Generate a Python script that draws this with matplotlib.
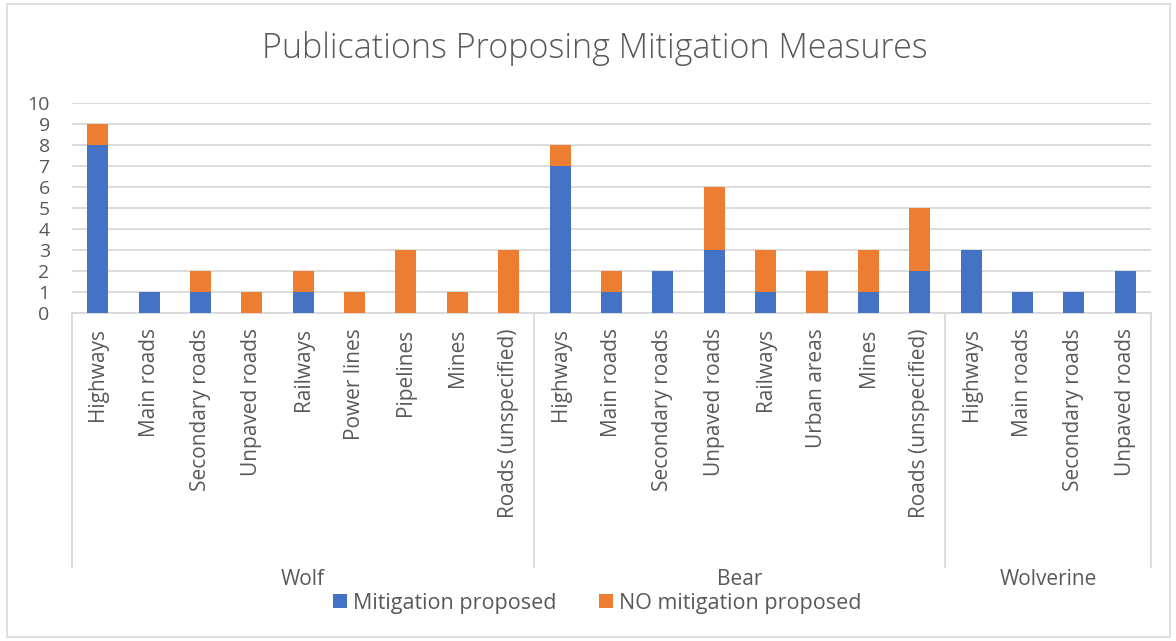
import matplotlib.pyplot as plt
from matplotlib.patches import Rectangle
from matplotlib.transforms import blended_transform_factory
import numpy as np

plt.rcParams['font.family'] = ['Open Sans', 'DejaVu Sans']

# species groups and the infrastructure types studied for each
groups = ["Wolf", "Bear", "Wolverine"]
wolf_types = ["Highways", "Main roads", "Secondary roads", "Unpaved roads", "Railways",
              "Power lines", "Pipelines", "Mines", "Roads (unspecified)"]
bear_types = ["Highways", "Main roads", "Secondary roads", "Unpaved roads", "Railways",
              "Urban areas", "Mines", "Roads (unspecified)"]
wolverine_types = ["Highways", "Main roads", "Secondary roads", "Unpaved roads"]

# publication counts
wolf_mitigation = [8, 1, 1, 0, 1, 0, 0, 0, 0]
wolf_no_mitigation = [1, 0, 1, 1, 1, 1, 3, 1, 3]
bear_mitigation = [7, 1, 2, 3, 1, 0, 1, 2]
bear_no_mitigation = [1, 1, 0, 3, 2, 2, 2, 3]
wolverine_mitigation = [3, 1, 1, 2]
wolverine_no_mitigation = [0, 0, 0, 0]

BLUE = "#4472C4"
ORANGE = "#ED7D31"
TEXT = "#595959"
LINE = "#D9D9D9"


def main():
    labels = wolf_types + bear_types + wolverine_types
    mitigation = np.array(wolf_mitigation + bear_mitigation + wolverine_mitigation)
    no_mitigation = np.array(wolf_no_mitigation + bear_no_mitigation + wolverine_no_mitigation)
    sizes = [len(wolf_types), len(bear_types), len(wolverine_types)]
    x = np.arange(len(labels))

    fig = plt.figure(figsize=(11.76, 6.41), dpi=100)
    ax = fig.add_axes([0.0612, 0.5117, 0.9175, 0.3276])

    ax.bar(x, mitigation, width=0.41, color=BLUE, label="Mitigation proposed", zorder=3)
    ax.bar(x, no_mitigation, width=0.41, bottom=mitigation, color=ORANGE,
           label="NO mitigation proposed", zorder=3)

    ax.set_xlim(-0.5, len(labels) - 0.5)
    ax.set_ylim(0, 10)
    ax.set_yticks(range(0, 11))
    ax.yaxis.grid(True, color=LINE, linewidth=1.3, zorder=0)
    ax.set_axisbelow(True)
    for side in ["top", "right", "left"]:
        ax.spines[side].set_visible(False)
    ax.spines["bottom"].set_color(LINE)
    ax.spines["bottom"].set_linewidth(1.3)

    ax.set_xticks(x)
    ax.set_xticklabels(labels, rotation=90, va="top", ha="center")
    ax.tick_params(axis="x", length=0, pad=11, labelsize=15, labelcolor=TEXT)
    ax.tick_params(axis="y", length=0, pad=16, labelsize=14, labelcolor=TEXT)

    # two-level category axis: separators and species names
    trans = blended_transform_factory(ax.transData, ax.transAxes)
    bounds = np.concatenate([[0], np.cumsum(sizes)]) - 0.5
    for b in bounds:
        ax.plot([b, b], [0, -1.21], transform=trans, color=LINE, linewidth=1.3, clip_on=False)
    for g, lo, hi in zip(groups, bounds[:-1], bounds[1:]):
        ax.text((lo + hi) / 2, -1.27, g, transform=trans, ha="center", va="center",
                fontsize=15, color=TEXT)

    fig.text(0.506, 1 - 48 / 641, "Publications Proposing Mitigation Measures",
             ha="center", va="center", fontsize=24.5, color=TEXT, fontweight="light")

    fig.legend(loc="center", bbox_to_anchor=(0.508, 1 - 603 / 641), ncol=2, frameon=False,
               fontsize=15.5, labelcolor=TEXT, handlelength=0.65, handleheight=0.65,
               handletextpad=0.3, columnspacing=1.95)

    # chart area border
    fig.patches.append(Rectangle((7 / 1176, 4 / 641), 1163 / 1176, 633 / 641,
                                 transform=fig.transFigure, fill=False,
                                 edgecolor=LINE, linewidth=1.2))

    fig.savefig("out.png", dpi=100)


if __name__ == "__main__":
    main()
